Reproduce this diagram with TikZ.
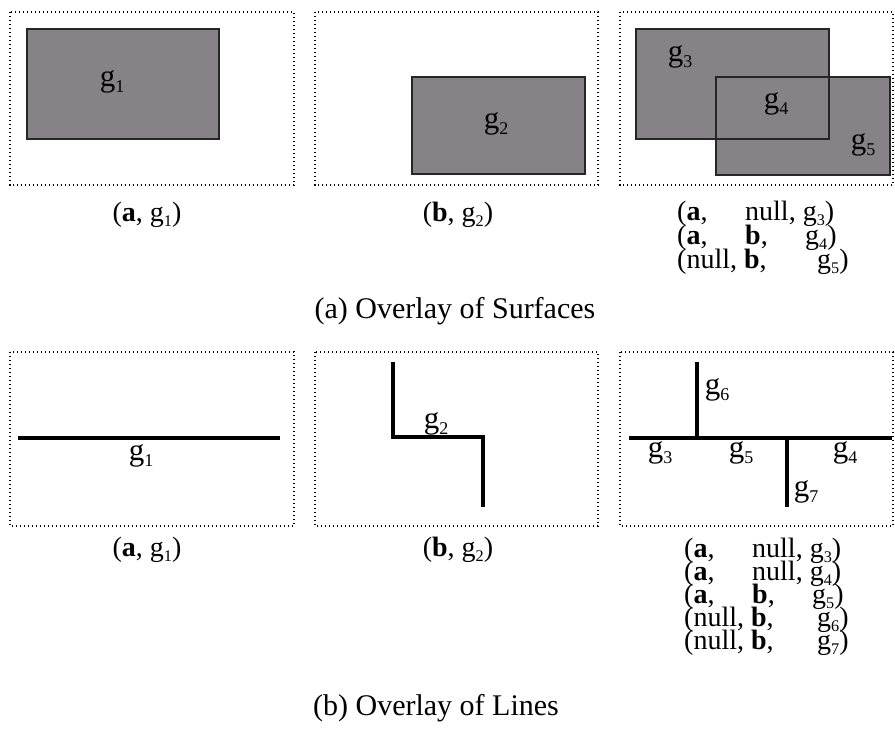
\documentclass[tikz,border=0pt]{standalone}
\usepackage{fontspec}
\setmainfont{Liberation Serif}
\usepackage{graphicx}
\usetikzlibrary{positioning}

\definecolor{patchgray}{RGB}{133,131,133}

% g with a small lowered index
\newcommand{\gsub}[1]{g\raisebox{-0.2em}{\scalebox{0.58}{#1}}}
% rows set closer than their parentheses
\newcommand{\tightrows}{\lineskiplimit=-20pt\relax}

\tikzset{
    panel/.style={line width=1.4pt, dash pattern=on 1.4pt off 2.6pt},
    patch/.style={fill=patchgray},
    patchedge/.style={draw=black!85, line width=1.1pt},
    seg/.style={line width=3.8pt},
    lab/.style={font=\fontsize{31}{31}\selectfont, inner sep=0pt},
    capt/.style={font=\fontsize{28}{28}\selectfont, inner sep=0pt, anchor=base},
    rows/.style={font=\fontsize{28}{#1}\selectfont\tightrows, inner sep=0pt, anchor=base west, align=left},
    heading/.style={font=\fontsize{30}{30}\selectfont, inner sep=0pt, anchor=base}
}

\begin{document}
\begin{tikzpicture}[x=1pt, y=-1pt]

\useasboundingbox (0,0) rectangle (895,734);

% ---- (a) surfaces ----

% Frames
\draw[panel] (10,12) rectangle (294,185);
\draw[panel] (315,12) rectangle (598,185);
\draw[panel] (620,12) rectangle (893,185);

% Surface a
\draw[patch, patchedge] (27,29) rectangle (219,139);
\node[lab] (sa1) at (112,82) {\gsub{1}};

% Surface b
\draw[patch, patchedge] (412,77) rectangle (585,174);
\node[lab] (sb2) at (496,124) {\gsub{2}};

% Overlay of a and b
\fill[patch] (636,29) rectangle (829,139);
\fill[patch] (716,77) rectangle (890,175);
\draw[patchedge] (636,29) rectangle (829,139);
\draw[patchedge] (716,77) rectangle (890,175);
\node[lab] (so3) at (680,57) {\gsub{3}};
\node[lab] (so4) at (776,104) {\gsub{4}};
\node[lab] (so5) at (863,145) {\gsub{5}};

% Captions (base of a block = its last line)
\node[capt] (ca) at (147,221) {(\textbf{a}, \gsub{1})};
\node[capt] (cb) at (458,221) {(\textbf{b}, \gsub{2})};
\node[rows=24pt] (ra) at (677,268) {%
    \makebox[68pt][l]{(\textbf{a},}null, \gsub{3})\\
    \makebox[68pt][l]{(\textbf{a},}\makebox[60pt][l]{\textbf{b},}\gsub{4})\\
    \makebox[140pt][l]{(null, \textbf{b},}\gsub{5})};

\node[heading] (ta) at (455,318) {(a) Overlay of Surfaces};

% ---- (b) lines ----

% Frames
\draw[panel] (10,352) rectangle (294,526);
\draw[panel] (315,352) rectangle (598,526);
\draw[panel] (620,352) rectangle (893,526);

% Line a
\draw[seg] (18,438) -- (280,438);
\node[lab] (la1) at (141,456) {\gsub{1}};

% Line b
\draw[seg] (393,362) -- (393,437) -- (483,437) -- (483,507);
\node[lab] (lb2) at (436,424) {\gsub{2}};

% Overlay of a and b
\draw[seg] (629,438) -- (892,438);
\draw[seg] (697,362) -- (697,438);
\draw[seg] (787,438) -- (787,507);
\node[lab] (lo6) at (717,390) {\gsub{6}};
\node[lab] (lo3) at (660,453) {\gsub{3}};
\node[lab] (lo5) at (741,453) {\gsub{5}};
\node[lab] (lo4) at (845,453) {\gsub{4}};
\node[lab] (lo7) at (806,492) {\gsub{7}};

% Captions
\node[capt] (da) at (147,556) {(\textbf{a}, \gsub{1})};
\node[capt] (db) at (458,556) {(\textbf{b}, \gsub{2})};
\node[rows=23pt] (rb) at (684,649) {%
    \makebox[68pt][l]{(\textbf{a},}null, \gsub{3})\\
    \makebox[68pt][l]{(\textbf{a},}null, \gsub{4})\\
    \makebox[68pt][l]{(\textbf{a},}\makebox[60pt][l]{\textbf{b},}\gsub{5})\\
    \makebox[133pt][l]{(null, \textbf{b},}\gsub{6})\\
    \makebox[133pt][l]{(null, \textbf{b},}\gsub{7})};

\node[heading] (tb) at (436,715) {(b) Overlay of Lines};

\end{tikzpicture}
\end{document}
